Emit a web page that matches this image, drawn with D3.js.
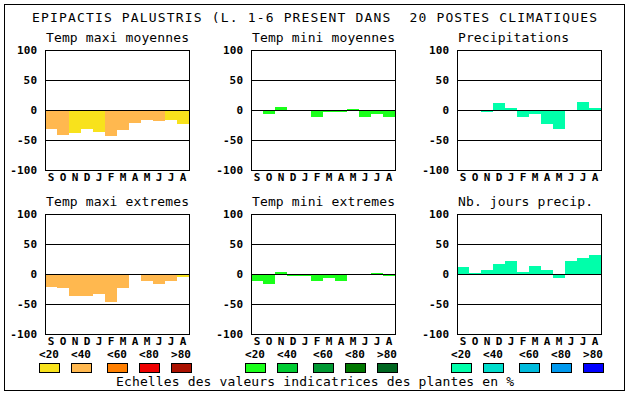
<!DOCTYPE html>
<html>
<head>
<meta charset="utf-8">
<script src="https://cdn.jsdelivr.net/npm/d3@7"></script>
<style>
  body { margin: 0; background: #fff; }
  svg { display: block; }
  text { font-family: "DejaVu Sans Mono", "Liberation Mono", monospace; fill: #000; }
  .bold { font-weight: bold; }
</style>
</head>
<body>
<div id="chart"></div>
<script>
const months = ["S", "O", "N", "D", "J", "F", "M", "A", "M", "J", "J", "A"];
const yTicks = [100, 50, 0, -50, -100];
const legendLabels = ["<20", "<40", "<60", "<80", ">80"];

const warmColors = ["#f8e21c", "#ffb84f", "#ff7f00", "#ee0000", "#aa1100"];
const greenColors = ["#1aff1a", "#00cc33", "#009933", "#007700", "#006620"];
const blueColors = ["#00ffaa", "#00ddcc", "#00bbdd", "#0099ee", "#0000ff"];

// values, level = colour class in the palette
const maxiMoy = [-31, -41, -38, -31, -36, -43, -33, -21, -16, -18, -16, -24];
const maxiMoyLevel = [1, 1, 0, 0, 0, 1, 1, 1, 1, 1, 0, 0];
const miniMoy = [0, -7, 5, -2, -2, -11, -4, -4, 2, -12, -7, -11];
const miniMoyLevel = [0, 0, 0, 0, 0, 0, 0, 0, 0, 0, 0, 0];
const precip = [-2, -2, -4, 11, 4, -12, -6, -24, -31, -2, 13, 4];
const precipLevel = [0, 0, 0, 0, 0, 0, 0, 0, 0, 0, 0, 0];
const maxiExt = [-21, -24, -37, -36, -34, -46, -24, -2, -11, -17, -11, -5];
const maxiExtLevel = [1, 1, 1, 1, 1, 1, 1, 1, 1, 1, 1, 0];
const miniExt = [-11, -16, 4, -4, -4, -12, -6, -12, 0, 0, 2, -4];
const miniExtLevel = [0, 0, 0, 0, 0, 0, 0, 0, 0, 0, 0, 0];
const nbJours = [12, 2, 6, 16, 22, 4, 14, 6, -6, 21, 26, 31];
const nbJoursLevel = [0, 0, 0, 0, 0, 0, 0, 0, 0, 0, 0, 0];

const panels = [
  { title: "Temp maxi moyennes", values: maxiMoy, level: maxiMoyLevel, colors: warmColors, col: 0, row: 0 },
  { title: "Temp mini moyennes", values: miniMoy, level: miniMoyLevel, colors: greenColors, col: 1, row: 0 },
  { title: "Precipitations", values: precip, level: precipLevel, colors: blueColors, col: 2, row: 0 },
  { title: "Temp maxi extremes", values: maxiExt, level: maxiExtLevel, colors: warmColors, col: 0, row: 1 },
  { title: "Temp mini extremes", values: miniExt, level: miniExtLevel, colors: greenColors, col: 1, row: 1 },
  { title: "Nb. jours precip.", values: nbJours, level: nbJoursLevel, colors: blueColors, col: 2, row: 1 }
];

const width = 630, height = 394;
const colLeft = [45, 251, 457];
const rowTop = [50, 214];
const plotW = 144, plotH = 120;

const svg = d3.select("#chart").append("svg")
  .attr("width", width)
  .attr("height", height);

// outer frame
svg.append("rect")
  .attr("x", 4.5).attr("y", 4.5)
  .attr("width", 620).attr("height", 386)
  .attr("fill", "none").attr("stroke", "#000");

svg.append("text")
  .attr("x", 32).attr("y", 22)
  .attr("font-size", 13)
  .attr("textLength", 565)
  .attr("lengthAdjust", "spacing")
  .attr("xml:space", "preserve")
  .text("EPIPACTIS PALUSTRIS (L. 1-6 PRESENT DANS  20 POSTES CLIMATIQUES");

panels.forEach(p => {
  const left = colLeft[p.col], top = rowTop[p.row];
  const x = d3.scaleBand().domain(d3.range(12)).range([left, left + plotW]);
  const y = d3.scaleLinear().domain([-100, 100]).range([top + plotH, top]);
  const g = svg.append("g").attr("shape-rendering", "crispEdges");

  g.append("text")
    .attr("x", left + 1).attr("y", top - 8)
    .attr("font-size", 13)
    .attr("textLength", p.title.length * 8 - 1)
    .attr("lengthAdjust", "spacing")
    .text(p.title);

  g.selectAll(".bar")
    .data(p.values)
    .enter()
    .append("rect")
    .attr("x", (d, i) => x(i))
    .attr("width", x.bandwidth())
    .attr("y", d => Math.round(y(Math.max(0, d))))
    .attr("height", d => Math.abs(Math.round(y(d)) - Math.round(y(0))))
    .attr("fill", (d, i) => p.colors[p.level[i]]);

  g.selectAll(".grid")
    .data([50, 0, -50])
    .enter()
    .append("line")
    .attr("x1", left).attr("x2", left + plotW)
    .attr("y1", d => Math.round(y(d)) + 0.5)
    .attr("y2", d => Math.round(y(d)) + 0.5)
    .attr("stroke", "#000");

  g.append("rect")
    .attr("x", left + 0.5).attr("y", top + 0.5)
    .attr("width", plotW).attr("height", plotH)
    .attr("fill", "none").attr("stroke", "#000");

  g.selectAll(".tick")
    .data(yTicks)
    .enter()
    .append("text")
    .attr("class", "bold")
    .attr("x", left - 8)
    .attr("y", d => y(d) + 4)
    .attr("text-anchor", "end")
    .attr("font-size", 11)
    .attr("textLength", d => String(d).length * 6.7)
    .attr("lengthAdjust", "spacing")
    .text(d => d);

  g.selectAll(".month")
    .data(months)
    .enter()
    .append("text")
    .attr("class", "bold")
    .attr("x", (d, i) => x(i) + x.bandwidth() / 2)
    .attr("y", top + plotH + 11)
    .attr("text-anchor", "middle")
    .attr("font-size", 11)
    .text(d => d);
});

// legends
const legendOffsets = [-6, 26, 62, 94, 126];
[warmColors, greenColors, blueColors].forEach((colors, c) => {
  const left = colLeft[c];
  const lg = svg.append("g").attr("shape-rendering", "crispEdges");
  lg.selectAll("rect")
    .data(colors)
    .enter()
    .append("rect")
    .attr("x", (d, i) => left + legendOffsets[i] + 0.5)
    .attr("y", 363.5)
    .attr("width", 20).attr("height", 9)
    .attr("fill", d => d)
    .attr("stroke", "#000");
  lg.selectAll("text")
    .data(legendLabels)
    .enter()
    .append("text")
    .attr("class", "bold")
    .attr("x", (d, i) => left + legendOffsets[i] + 10)
    .attr("y", 358)
    .attr("text-anchor", "middle")
    .attr("font-size", 11)
    .text(d => d);
});

svg.append("text")
  .attr("x", 116).attr("y", 386)
  .attr("font-size", 13)
  .attr("textLength", 398)
  .attr("lengthAdjust", "spacing")
  .text("Echelles des valeurs indicatrices des plantes en %");
</script>
</body>
</html>
